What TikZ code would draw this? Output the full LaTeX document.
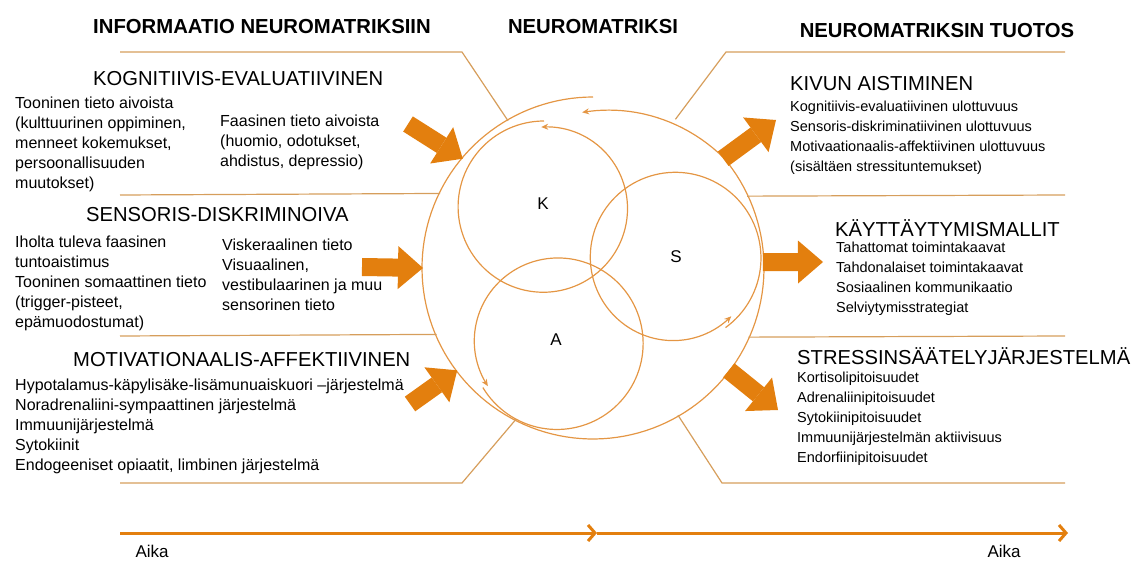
\documentclass[tikz,border=0pt]{standalone}
\usepackage{fontspec}
\setmainfont{Liberation Sans}
\usetikzlibrary{arrows.meta,positioning}
\definecolor{fatorange}{RGB}{227,127,14}
\definecolor{ringorange}{RGB}{228,150,68}
\definecolor{panelline}{RGB}{214,158,92}
\begin{document}
\begin{tikzpicture}[x=1pt, y=-1pt,
    head/.style={font=\fontsize{20.3}{24}\selectfont\bfseries},
    sect/.style={anchor=west, inner sep=0pt, font=\fontsize{20.2}{24}\selectfont},
    body/.style={anchor=north west, inner sep=0pt, align=left, font=\fontsize{16}{20}\selectfont},
    rbody/.style={anchor=north west, inner sep=0pt, align=left, font=\fontsize{14.5}{20}\selectfont},
    letter/.style={font=\fontsize{17}{20}\selectfont},
    ring/.style={draw=ringorange, line width=1.2pt},
    spiral/.style={ring, -{Stealth[length=7pt,width=6pt]}},
    panel/.style={draw=panelline, line width=1.2pt},
    fat/.style={draw=fatorange, line width=18pt, -{Triangle[length=25pt,width=43pt,line width=0pt]}},
    timeline/.style={draw=fatorange, line width=3pt, -{Straight Barb[length=7pt,width=16pt]}}]
    \useasboundingbox (0,0) rectangle (1133,561);
    % headers
    \node[head] (hin) at (262,27) {INFORMAATIO NEUROMATRIKSIIN};
    \node[head] (hnm) at (593,27) {NEUROMATRIKSI};
    \node[head] (hout) at (937,31) {NEUROMATRIKSIN TUOTOS};
    % neuromatrix
    \node[circle, minimum size=340pt, inner sep=0pt, outer sep=0pt] (neuro) at (593,268) {};
    \draw[spiral] plot[domain=90:454, samples=150] ({593+(171-15*max(0,\x-400)/54)*cos(\x)}, {268-(171-15*max(0,\x-400)/54)*sin(\x)});
    \draw[spiral] plot[domain=90:452, samples=120] ({544+(86-6*((\x-90)/362)^3)*cos(\x)}, {207-(86-6*((\x-90)/362)^3)*sin(\x)});
    \draw[spiral] plot[domain=306:674, samples=120] ({675+(86-5*((\x-306)/368)^3)*cos(\x)}, {258-(86-5*((\x-306)/368)^3)*sin(\x)});
    \draw[spiral] plot[domain=211:572, samples=120] ({557+(86.5-5*((\x-211)/361)^3)*cos(\x)}, {343-(86.5-5*((\x-211)/361)^3)*sin(\x)});
    \node[letter] (K) at (543,204) {K};
    \node[letter] (S) at (676,257) {S};
    \node[letter] (A) at (556,340) {A};
    % input panels
    \draw[panel] (120,52) -- (462,52) -- (neuro.120);
    \draw[panel] (120,195) -- (neuro.154.6);
    \draw[panel] (120,336) -- (neuro.203.6);
    \draw[panel] (120,483) -- (462,483) -- (neuro.243);
    \node[sect] (kog) at (93,79) {KOGNITIIVIS-EVALUATIIVINEN};
    \node[body] (kogA) at (15,97) {Tooninen tieto aivoista\\(kulttuurinen oppiminen,\\menneet kokemukset,\\persoonallisuuden\\muutokset)};
    \node[body] (kogB) at (220,115) {Faasinen tieto aivoista\\(huomio, odotukset,\\ahdistus, depressio)};
    \node[sect] (sens) at (86,215) {SENSORIS-DISKRIMINOIVA};
    \node[body] (sensA) at (15,236) {Iholta tuleva faasinen\\tuntoaistimus\\Tooninen somaattinen tieto\\(trigger-pisteet,\\epämuodostumat)};
    \node[body] (sensB) at (222,239) {Viskeraalinen tieto\\Visuaalinen,\\vestibulaarinen ja muu\\sensorinen tieto};
    \node[sect] (mot) at (73,360) {MOTIVATIONAALIS-AFFEKTIIVINEN};
    \node[body] (motA) at (15,379) {Hypotalamus-käpylisäke-lisämunuaiskuori –järjestelmä\\Noradrenaliini-sympaattinen järjestelmä\\Immuunijärjestelmä\\Sytokiinit\\Endogeeniset opiaatit, limbinen järjestelmä};
    \draw[fat] (408,124) -- (neuro.140);
    \draw[fat] (362,267) -- (neuro.180);
    \draw[fat] (410,404) -- (neuro.217);
    % output panels
    \draw[panel] (1065,52) -- (726,52) -- (neuro.61);
    \draw[panel] (neuro.25.4) -- (1065,195);
    \draw[panel] (neuro.336) -- (1065,336);
    \draw[panel] (neuro.300) -- (722,483) -- (1065,483);
    \node[sect] (kivu) at (790,84) {KIVUN AISTIMINEN};
    \node[rbody] (kivuA) at (790,101) {Kognitiivis-evaluatiivinen ulottuvuus\\Sensoris-diskriminatiivinen ulottuvuus\\Motivaationaalis-affektiivinen ulottuvuus\\(sisältäen stressituntemukset)};
    \node[sect] (kayt) at (835,228) {KÄYTTÄYTYMISMALLIT};
    \node[rbody] (kaytA) at (836,242) {Tahattomat toimintakaavat\\Tahdonalaiset toimintakaavat\\Sosiaalinen kommunikaatio\\Selviytymisstrategiat};
    \node[sect] (stre) at (797,356) {STRESSINSÄÄTELYJÄRJESTELMÄ};
    \node[rbody] (streA) at (797,372) {Kortisolipitoisuudet\\Adrenaliinipitoisuudet\\Sytokiinipitoisuudet\\Immuunijärjestelmän aktiivisuus\\Endorfiinipitoisuudet};
    \draw[fat] (neuro.40) -- (776,120);
    \draw[fat] (neuro.2) -- (823,262);
    \draw[fat] (neuro.-37) -- (778,410);
    % time
    \coordinate (t0) at (120,533);
    \coordinate (tm) at (597,533);
    \coordinate (t1) at (1068,533);
    \draw[timeline] (t0) -- (tm);
    \draw[timeline] (tm) -- (t1);
    \node[letter, anchor=west] (aika1) at (132,551) {Aika};
    \node[letter, anchor=west] (aika2) at (984,551) {Aika};
\end{tikzpicture}
\end{document}
